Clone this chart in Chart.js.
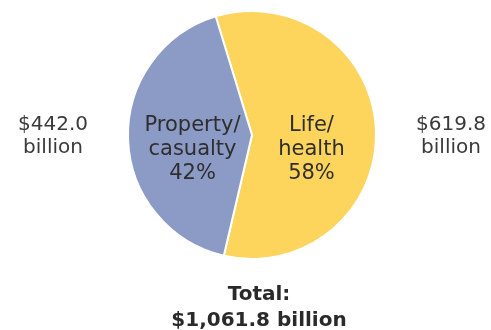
<!DOCTYPE html>
<html lang="en">
<head>
    <meta charset="UTF-8">
    <title>Insurance premiums written</title>
    <script src="https://cdn.jsdelivr.net/npm/chart.js"></script>
    <style>
        html, body {
            margin: 0;
            padding: 0;
            background: #ffffff;
        }
        .wrap {
            width: 491px;
            height: 330px;
        }
    </style>
</head>
<body>
    <div class="wrap">
        <canvas id="premiumChart" width="491" height="330"></canvas>
    </div>

    <script>
        const categories = ['Life/health', 'Property/casualty'];
        const insideLabels = [['Life/', 'health'], ['Property/', 'casualty']];
        const amounts = [619.8, 442.0];          // $ billion
        const shares = [58, 42];                 // percent, as printed
        const outsideLabels = [['$619.8', 'billion'], ['$442.0', 'billion']];
        const totalLabel = ['Total:', '$1,061.8 billion'];
        const sliceColors = ['#fdd45c', '#8b9bc6'];

        const fontFamily = '"DejaVu Sans", Verdana, sans-serif';

        // writes the slice labels and the total under the pie
        const pieText = {
            id: 'pieText',
            afterDatasetsDraw(chart) {
                const ctx = chart.ctx;
                const arcs = chart.getDatasetMeta(0).data;
                ctx.save();
                ctx.textAlign = 'center';
                ctx.textBaseline = 'alphabetic';

                arcs.forEach((arc, i) => {
                    const { x, y, startAngle, endAngle, outerRadius } = arc.getProps(['x', 'y', 'startAngle', 'endAngle', 'outerRadius'], true);
                    const mid = (startAngle + endAngle) / 2;
                    const side = Math.cos(mid) >= 0 ? 1 : -1;

                    // inside the slice
                    const cx = x + Math.cos(mid) * outerRadius * 0.48;
                    ctx.fillStyle = '#2e2e2e';
                    ctx.font = '21px ' + fontFamily;
                    const lines = insideLabels[i].concat([shares[i] + '%']);
                    lines.forEach((t, k) => {
                        ctx.fillText(t, cx, y - 4 + k * 24);
                    });

                    // amount beside the pie
                    const ox = x + side * (outerRadius + 75);
                    ctx.fillStyle = '#3a3a3a';
                    ctx.font = '20px ' + fontFamily;
                    outsideLabels[i].forEach((t, k) => {
                        ctx.fillText(t, ox, y - 5 + k * 23);
                    });
                });

                // total
                const cxT = (chart.chartArea.left + chart.chartArea.right) / 2 + 7;
                ctx.fillStyle = '#2a2a2a';
                ctx.font = 'bold 20px ' + fontFamily;
                ctx.fillText(totalLabel[0], cxT, chart.chartArea.bottom + 40);
                ctx.fillText(totalLabel[1], cxT, chart.chartArea.bottom + 66);
                ctx.restore();
            }
        };

        new Chart(document.getElementById('premiumChart'), {
            type: 'pie',
            data: {
                labels: categories,
                datasets: [{
                    data: amounts,
                    backgroundColor: sliceColors,
                    borderColor: '#ffffff',
                    borderWidth: 2
                }]
            },
            options: {
                responsive: false,
                animation: false,
                rotation: -17,
                layout: {
                    padding: { top: 10, bottom: 70, left: 127, right: 114 }
                },
                plugins: {
                    legend: { display: false },
                    tooltip: { enabled: false }
                }
            },
            plugins: [pieText]
        });
    </script>
</body>
</html>
